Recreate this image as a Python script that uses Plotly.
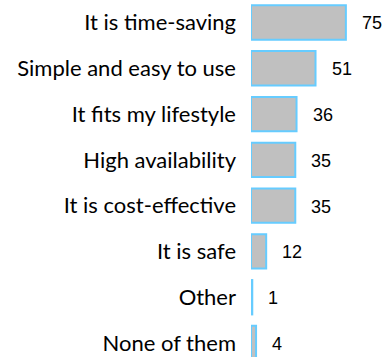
import plotly.graph_objects as go

categories = ["It is time-saving", "Simple and easy to use", "It fits my lifestyle",
              "High availability", "It is cost-effective", "It is safe", "Other", "None of them"]
values = [75, 51, 36, 35, 35, 12, 1, 4]

fig = go.Figure()
fig.add_trace(go.Bar(
    x=values, y=categories, orientation="h",
    marker=dict(color="#C0C0C0", line=dict(color="#66CCFF", width=2)),
    showlegend=False,
))

for c, v in zip(categories, values):
    fig.add_annotation(x=v, y=c, text=str(v), showarrow=False, xanchor="left",
                       xshift=14, yshift=-1,
                       font=dict(family="Liberation Sans, Arial", size=18, color="#000", weight=400))

fig.update_layout(
    width=388, height=357,
    margin=dict(l=251, r=0, t=0, b=0),
    paper_bgcolor="white", plot_bgcolor="white",
    bargap=0.25,
    xaxis=dict(range=[0, 108.3], visible=False),
    yaxis=dict(type="category", categoryorder="array", categoryarray=categories,
               range=[7.305, -0.491], showgrid=False, zeroline=False, showline=False,
               ticks="", ticklabelstandoff=14,
               tickfont=dict(family="Lato", size=22, color="#000", weight=400)),
)
fig.write_html("out.html")
